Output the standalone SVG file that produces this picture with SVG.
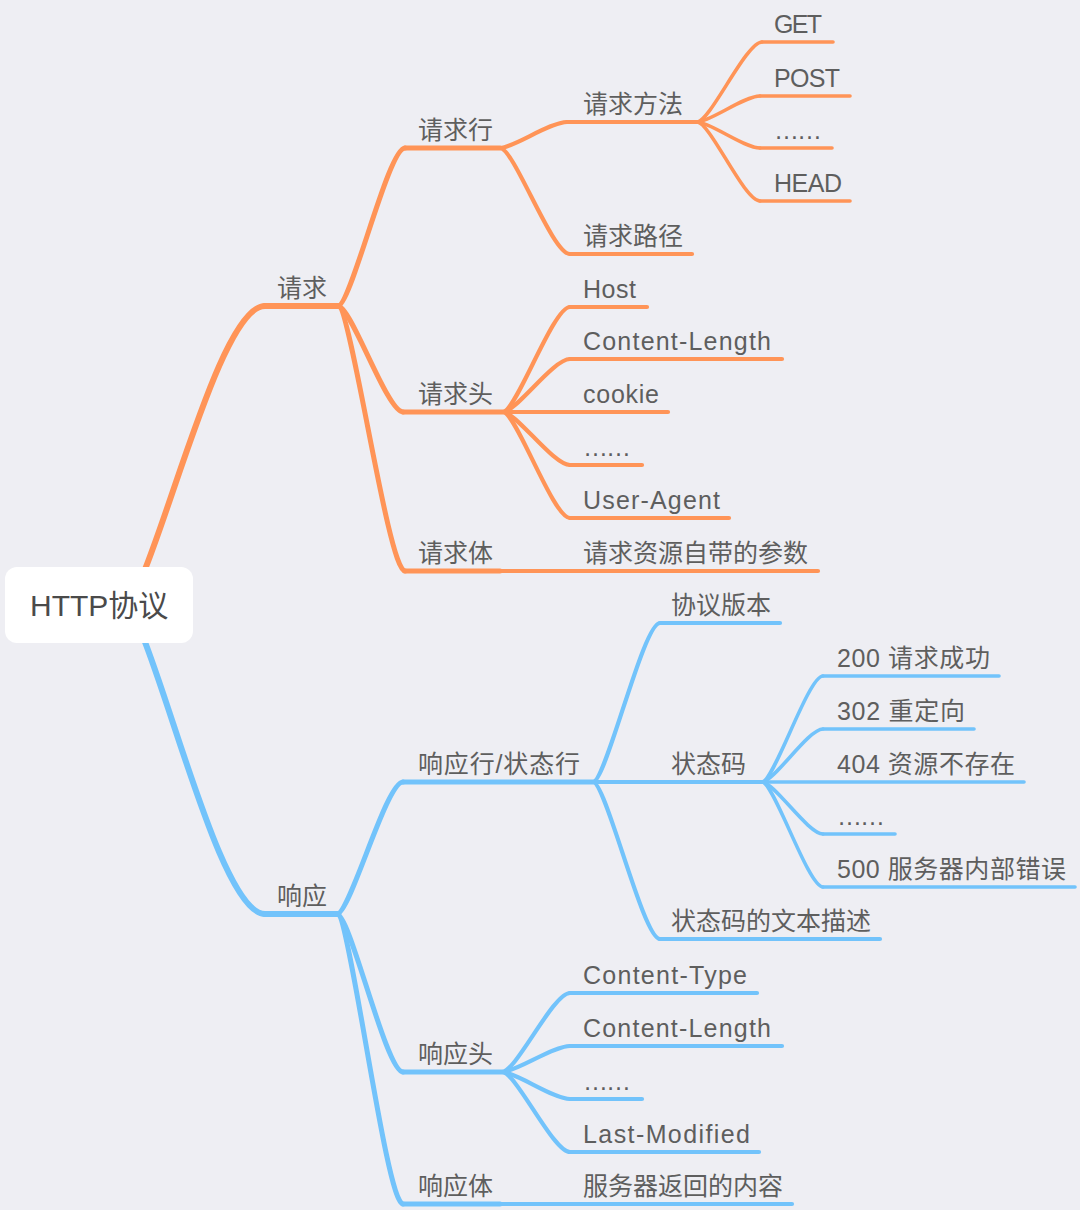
<svg xmlns="http://www.w3.org/2000/svg" width="1080" height="1210" viewBox="0 0 1080 1210">
<style>
text{font-family:"Liberation Sans","Noto Sans CJK SC",sans-serif;font-size:25px;fill:#5e5e5e}
.root{font-size:30px;fill:#4a4a4a}
path,line{fill:none;stroke-linecap:round}
.o{stroke:#FF9457}
.b{stroke:#72C3FB}
.w1{stroke-width:6}
.w2{stroke-width:5}
.w3{stroke-width:4.2}
.w4{stroke-width:3.6}
</style>
<rect width="1080" height="1210" fill="#EEEEF3"/>
<g id="connectors">
<path class="o w1" d="M120,610 C149,610 214,306 265,306"/>
<path class="o w2" d="M338,306 C351,306 388,148 405,148"/>
<path class="o w2" d="M338,306 C351,306 387,412 403,412"/>
<path class="o w2" d="M338,306 C351,306 388,571 405,571"/>
<path class="o w3" d="M500,148 C513,148 550,122 567,122"/>
<path class="o w3" d="M500,148 C514,148 552,254 570,254"/>
<path class="o w4" d="M697,122 C710,122 746,42 762,42"/>
<path class="o w4" d="M697,122 C710,122 744,96 760,96"/>
<path class="o w4" d="M697,122 C710,122 744,148 760,148"/>
<path class="o w4" d="M697,122 C710,122 744,201 760,201"/>
<path class="o w3" d="M503,412 C516,412 553,307 570,307"/>
<path class="o w3" d="M503,412 C516,412 553,359 570,359"/>
<path class="o w3" d="M503,412 C516,412 553,465 570,465"/>
<path class="o w3" d="M503,412 C516,412 553,518 570,518"/>
<path class="b w1" d="M120,600 C149,600 214,914 265,914"/>
<path class="b w2" d="M337,914 C350,914 386,782 403,782"/>
<path class="b w2" d="M337,914 C350,914 386,1072 403,1072"/>
<path class="b w2" d="M337,914 C350,914 386,1204 403,1204"/>
<path class="b w3" d="M593,782 C606,782 643,623 660,623"/>
<path class="b w3" d="M593,782 C606,782 643,939 660,939"/>
<path class="b w4" d="M762,782 C774,782 808,676 823,676"/>
<path class="b w4" d="M762,782 C774,782 808,729 823,729"/>
<path class="b w4" d="M762,782 C774,782 808,834 823,834"/>
<path class="b w4" d="M762,782 C774,782 808,887 823,887"/>
<path class="b w3" d="M502,1072 C516,1072 553,993 570,993"/>
<path class="b w3" d="M502,1072 C516,1072 553,1046 570,1046"/>
<path class="b w3" d="M502,1072 C516,1072 553,1099 570,1099"/>
<path class="b w3" d="M502,1072 C516,1072 553,1152 570,1152"/>
</g>
<g id="root"><rect x="5" y="567" width="188" height="76" rx="12" fill="#FFFFFF"/><text class="root" x="30" y="616">HTTP协议</text></g>
<g id="n-qingqiu"><line class="o w1" x1="265" y1="306" x2="338" y2="306"/><text x="277" y="297">请求</text></g>
<g id="n-qingqiuhang"><line class="o w2" x1="405" y1="148" x2="500" y2="148"/><text x="418" y="139">请求行</text></g>
<g id="n-qingqiutou"><line class="o w2" x1="403" y1="412" x2="503" y2="412"/><text x="418" y="403">请求头</text></g>
<g id="n-qingqiuti"><line class="o w2" x1="405" y1="571" x2="500" y2="571"/><text x="418" y="562">请求体</text></g>
<g id="n-fangfa"><line class="o w3" x1="567" y1="122" x2="697" y2="122"/><text x="583" y="113">请求方法</text></g>
<g id="n-lujing"><line class="o w3" x1="570" y1="254" x2="692" y2="254"/><text x="583" y="245">请求路径</text></g>
<g id="n-get"><line class="o w4" x1="762" y1="42" x2="833" y2="42"/><text x="774" y="33" textLength="48">GET</text></g>
<g id="n-post"><line class="o w4" x1="760" y1="96" x2="850" y2="96"/><text x="774" y="87" textLength="66">POST</text></g>
<g id="n-m-etc"><line class="o w4" x1="760" y1="148" x2="832" y2="148"/><text x="774" y="139" textLength="48">……</text></g>
<g id="n-head"><line class="o w4" x1="760" y1="201" x2="850" y2="201"/><text x="774" y="192" textLength="68">HEAD</text></g>
<g id="n-host"><line class="o w3" x1="570" y1="307" x2="647" y2="307"/><text x="583" y="298" textLength="53">Host</text></g>
<g id="n-cl1"><line class="o w3" x1="570" y1="359" x2="782" y2="359"/><text x="583" y="350" textLength="188">Content-Length</text></g>
<g id="n-cookie"><line class="o w3" x1="503" y1="412" x2="668" y2="412"/><text x="583" y="403" textLength="76">cookie</text></g>
<g id="n-h-etc"><line class="o w3" x1="570" y1="465" x2="642" y2="465"/><text x="583" y="456" textLength="48">……</text></g>
<g id="n-ua"><line class="o w3" x1="570" y1="518" x2="729" y2="518"/><text x="583" y="509" textLength="137">User-Agent</text></g>
<g id="n-canshu"><line class="o w3" x1="500" y1="571" x2="818" y2="571"/><text x="583" y="562">请求资源自带的参数</text></g>
<g id="n-xiangying"><line class="b w1" x1="265" y1="914" x2="337" y2="914"/><text x="277" y="905">响应</text></g>
<g id="n-xyh"><line class="b w2" x1="403" y1="782" x2="593" y2="782"/><text x="418" y="773" textLength="162">响应行/状态行</text></g>
<g id="n-xyt"><line class="b w2" x1="403" y1="1072" x2="502" y2="1072"/><text x="418" y="1063">响应头</text></g>
<g id="n-xyti"><line class="b w2" x1="403" y1="1204" x2="500" y2="1204"/><text x="418" y="1195">响应体</text></g>
<g id="n-version"><line class="b w3" x1="660" y1="623" x2="780" y2="623"/><text x="671" y="614">协议版本</text></g>
<g id="n-code"><line class="b w3" x1="593" y1="782" x2="762" y2="782"/><text x="671" y="773">状态码</text></g>
<g id="n-desc"><line class="b w3" x1="660" y1="939" x2="880" y2="939"/><text x="671" y="930">状态码的文本描述</text></g>
<g id="n-200"><line class="b w4" x1="823" y1="676" x2="999" y2="676"/><text x="837" y="667" textLength="153">200 请求成功</text></g>
<g id="n-302"><line class="b w4" x1="823" y1="729" x2="974" y2="729"/><text x="837" y="720" textLength="128">302 重定向</text></g>
<g id="n-404"><line class="b w4" x1="762" y1="782" x2="1024" y2="782"/><text x="837" y="773" textLength="178">404 资源不存在</text></g>
<g id="n-c-etc"><line class="b w4" x1="823" y1="834" x2="895" y2="834"/><text x="837" y="825" textLength="48">……</text></g>
<g id="n-500"><line class="b w4" x1="823" y1="887" x2="1075" y2="887"/><text x="837" y="878" textLength="229">500 服务器内部错误</text></g>
<g id="n-ct"><line class="b w3" x1="570" y1="993" x2="757" y2="993"/><text x="583" y="984" textLength="164">Content-Type</text></g>
<g id="n-cl2"><line class="b w3" x1="570" y1="1046" x2="782" y2="1046"/><text x="583" y="1037" textLength="188">Content-Length</text></g>
<g id="n-r-etc"><line class="b w3" x1="570" y1="1099" x2="642" y2="1099"/><text x="583" y="1090" textLength="48">……</text></g>
<g id="n-lm"><line class="b w3" x1="570" y1="1152" x2="759" y2="1152"/><text x="583" y="1143" textLength="167">Last-Modified</text></g>
<g id="n-neirong"><line class="b w3" x1="500" y1="1204" x2="792" y2="1204"/><text x="583" y="1195">服务器返回的内容</text></g>
</svg>
